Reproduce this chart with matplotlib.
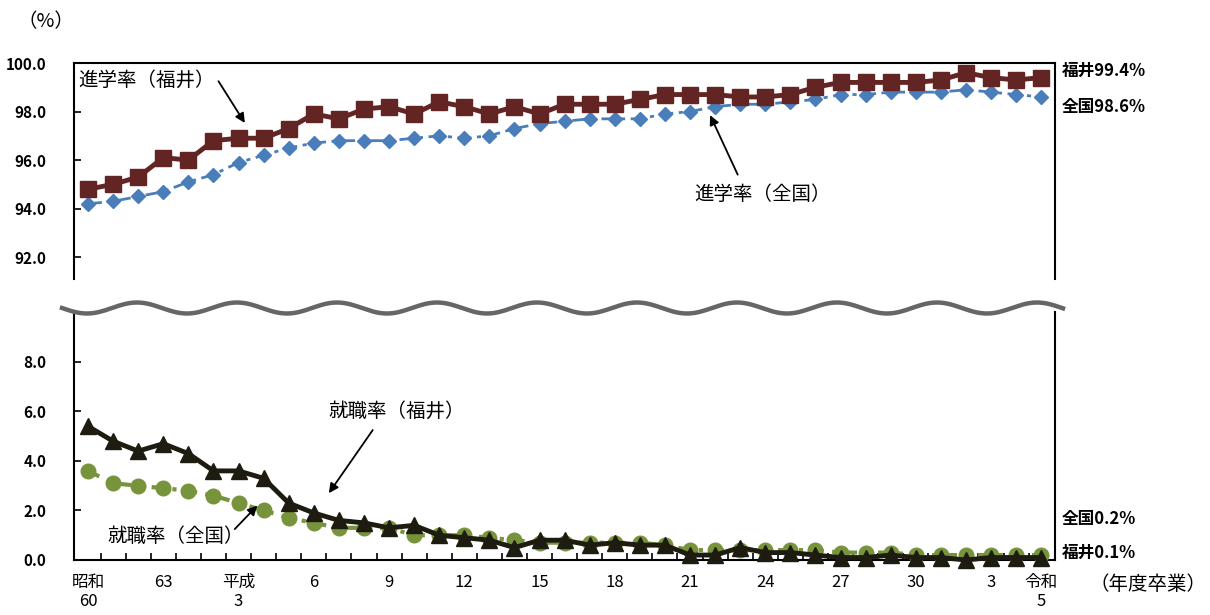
import numpy as np
import matplotlib

matplotlib.use("Agg")
import matplotlib.pyplot as plt
from matplotlib.lines import Line2D

plt.rcParams["font.family"] = ["Noto Sans CJK JP", "DejaVu Sans"]

# 昭和60年度卒業 (1985) ... 令和5年度卒業 (2023)
years = list(range(1985, 2024))
tick_labels = {1985: "昭和\n60", 1988: "63", 1991: "平成\n3", 1994: "6", 1997: "9",
               2000: "12", 2003: "15", 2006: "18", 2009: "21", 2012: "24",
               2015: "27", 2018: "30", 2021: "3", 2023: "令和\n5"}

shingaku_fukui = [94.8, 95.0, 95.3, 96.1, 96.0, 96.8, 96.9, 96.9, 97.3, 97.9,
                  97.7, 98.1, 98.2, 97.9, 98.4, 98.2, 97.9, 98.2, 97.9, 98.3,
                  98.3, 98.3, 98.5, 98.7, 98.7, 98.7, 98.6, 98.6, 98.7, 99.0,
                  99.2, 99.2, 99.2, 99.2, 99.3, 99.6, 99.4, 99.3, 99.4]
shingaku_zenkoku = [94.2, 94.3, 94.5, 94.7, 95.1, 95.4, 95.9, 96.2, 96.5, 96.7,
                    96.8, 96.8, 96.8, 96.9, 97.0, 96.9, 97.0, 97.3, 97.5, 97.6,
                    97.7, 97.7, 97.7, 97.9, 98.0, 98.2, 98.3, 98.3, 98.4, 98.5,
                    98.7, 98.7, 98.8, 98.8, 98.8, 98.9, 98.8, 98.7, 98.6]
shushoku_fukui = [5.4, 4.8, 4.4, 4.7, 4.3, 3.6, 3.6, 3.3, 2.3, 1.9,
                  1.6, 1.5, 1.3, 1.4, 1.0, 0.9, 0.8, 0.5, 0.8, 0.8,
                  0.6, 0.7, 0.6, 0.6, 0.2, 0.2, 0.5, 0.3, 0.3, 0.2,
                  0.1, 0.1, 0.2, 0.1, 0.1, 0.0, 0.1, 0.1, 0.1]
shushoku_zenkoku = [3.6, 3.1, 3.0, 2.9, 2.8, 2.6, 2.3, 2.0, 1.7, 1.5,
                    1.3, 1.3, 1.3, 1.0, 1.0, 1.0, 0.9, 0.8, 0.7, 0.7,
                    0.7, 0.7, 0.7, 0.6, 0.4, 0.4, 0.4, 0.4, 0.4, 0.4,
                    0.3, 0.3, 0.3, 0.2, 0.2, 0.2, 0.2, 0.2, 0.2]

MAROON = "#632523"
BLUE = "#4a7ebb"
DARK = "#1e1c11"
GREEN = "#77933c"

W, H = 1210, 615
fig = plt.figure(figsize=(W / 100, H / 100), dpi=100)


def fx(px):
    return px / W


def fy(py):
    return 1 - py / H


ax_top = fig.add_axes([fx(74), fy(279), fx(1055) - fx(74), fy(63) - fy(279)])
ax_bot = fig.add_axes([fx(74), fy(560), fx(1055) - fx(74), fy(312) - fy(560)])

x = np.arange(len(years))

ax_top.plot(x, shingaku_zenkoku, color=BLUE, lw=2, dashes=(5, 2, 1.5, 2),
            marker="D", ms=7.5, zorder=3)
ax_top.plot(x, shingaku_fukui, color=MAROON, lw=3.5, marker="s", ms=12, zorder=4)

ax_bot.plot(x, shushoku_zenkoku, color=GREEN, lw=3, dashes=(3, 2, 1, 2),
            marker="o", ms=10.5, clip_on=False, zorder=3)
ax_bot.plot(x, shushoku_fukui, color=DARK, lw=3.5, marker="^", ms=11,
            clip_on=False, zorder=4)

for ax in (ax_top, ax_bot):
    ax.set_xlim(-0.56, 38.55)
    for s in ax.spines.values():
        s.set_linewidth(1.5)
        s.set_color("black")
    ax.tick_params(axis="y", direction="in", length=5, width=1.2,
                   labelsize=11, pad=20)

ax_top.set_ylim(91.1, 100)
ax_top.set_yticks([92, 94, 96, 98, 100])
ax_top.set_yticklabels([f"{v:.1f}" for v in [92, 94, 96, 98, 100]],
                       fontweight="bold")
ax_top.spines["bottom"].set_visible(False)
ax_top.set_xticks([])

ax_bot.set_ylim(0, 10.02)
ax_bot.set_yticks([0, 2, 4, 6, 8])
ax_bot.set_yticklabels([f"{v:.1f}" for v in [0, 2, 4, 6, 8]], fontweight="bold")
ax_bot.spines["top"].set_visible(False)
ax_bot.set_xticks([years.index(y) for y in tick_labels])
ax_bot.set_xticklabels(list(tick_labels.values()), fontsize=12,
                       linespacing=1.15, va="top")
ax_bot.set_xticks(x[:-1] + 0.5, minor=True)
ax_bot.tick_params(axis="x", which="major", length=0, pad=10)
ax_bot.tick_params(axis="x", which="minor", direction="in", length=5, width=1.2)

# wavy break mark
wx = np.linspace(62, 1063, 600)
wy = 308 - 5.5 * np.sin(2 * np.pi * (wx - 112) / 100)
fig.add_artist(Line2D(fx(wx), fy(wy), color="#666666", lw=3.2,
                      transform=fig.transFigure))

arrow = dict(arrowstyle="-|>", color="black", lw=1.3, mutation_scale=14,
             shrinkA=0, shrinkB=0)
ax_top.text(-0.4, 99.3, "進学率（福井）", fontsize=14, ha="left", va="center")
ax_top.annotate("", xy=(6.25, 97.53), xytext=(5.2, 99.25), arrowprops=arrow)
ax_top.text(26.9, 94.6, "進学率（全国）", fontsize=14, ha="center", va="center")
ax_top.annotate("", xy=(24.8, 97.85), xytext=(25.9, 95.4), arrowprops=arrow)
ax_bot.text(12.3, 6.0, "就職率（福井）", fontsize=14, ha="center", va="center")
ax_bot.annotate("", xy=(9.6, 2.7), xytext=(11.35, 5.25), arrowprops=arrow)
ax_bot.text(3.5, 0.93, "就職率（全国）", fontsize=14, ha="center", va="center")
ax_bot.annotate("", xy=(6.75, 2.2), xytext=(5.85, 1.25), arrowprops=arrow)

# right-side value labels
for txt, py in [("福井99.4%", 71), ("全国98.6%", 107),
                ("全国0.2%", 519), ("福井0.1%", 553)]:
    fig.text(fx(1062), fy(py), txt, fontsize=12, fontweight="bold",
             ha="left", va="center")
fig.text(fx(1148), fy(585), "（年度卒業）", fontsize=14, ha="center", va="center")
fig.text(fx(46), fy(22), "（%）", fontsize=14, ha="center", va="center")

fig.savefig("out.png", dpi=100, facecolor="white")
